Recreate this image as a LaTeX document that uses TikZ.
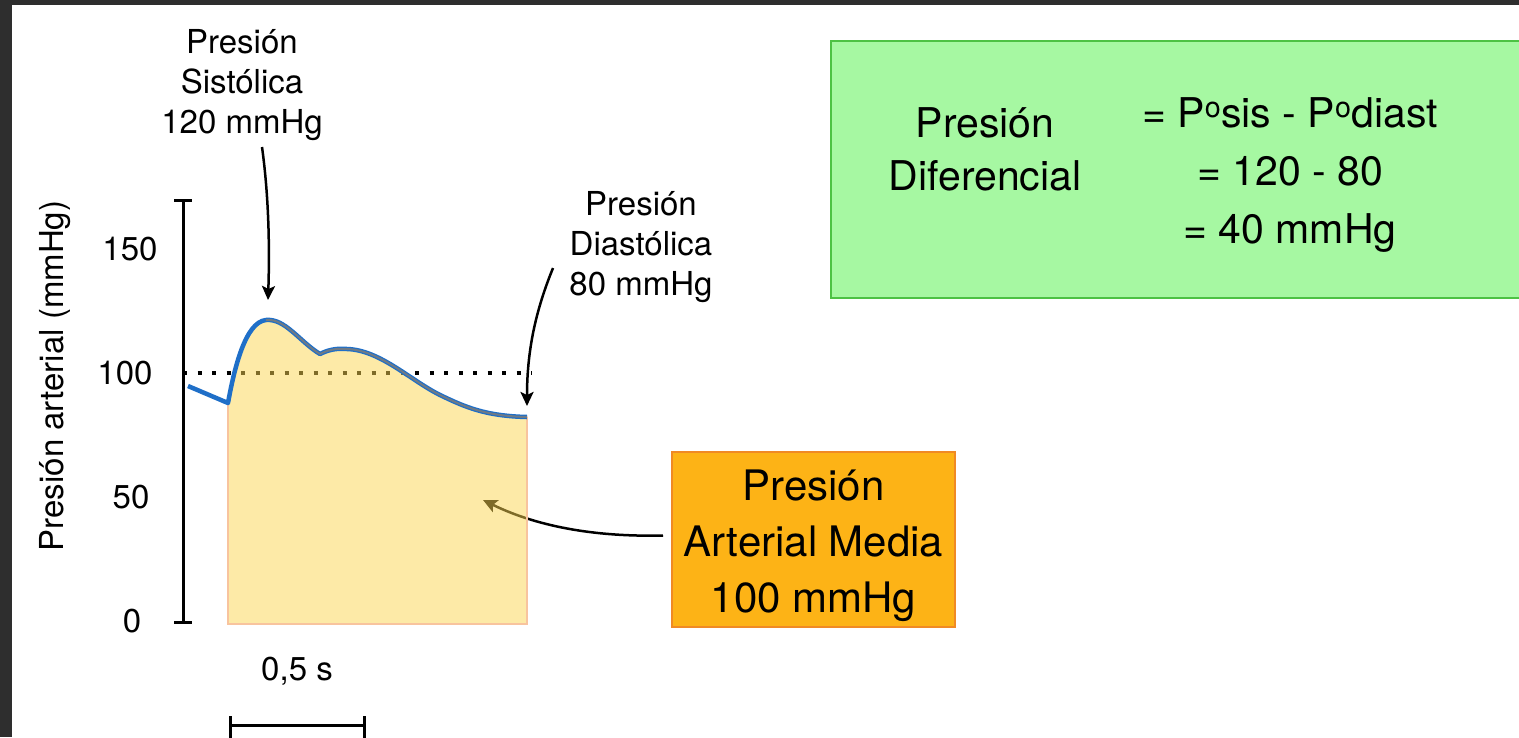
\documentclass[tikz,border=0pt]{standalone}
\usepackage{fontspec}
\setmainfont{TeX Gyre Heros}
\usetikzlibrary{arrows.meta}

\definecolor{framegray}{HTML}{2E2E2E}
\definecolor{curveblue}{HTML}{1F6FC8}
\definecolor{curvecore}{HTML}{6E7A86}
\definecolor{areafill}{HTML}{FDD750}
\definecolor{areaedge}{HTML}{F8C49E}
\definecolor{greenfill}{HTML}{A6F8A2}
\definecolor{greenedge}{HTML}{4DC244}
\definecolor{orangefill}{HTML}{FDB316}
\definecolor{orangeedge}{HTML}{F08A24}

% upper outline of one pressure pulse (pixel-like units, y pointing down)
\def\pulsetop{(228,403) .. controls (234,370) and (245,322) .. (266,320)
  .. controls (285,318) and (300,342) .. (320,354)
  .. controls (328,350) and (336,348) .. (347,349)
  .. controls (380,350) and (410,380) .. (440,395)
  .. controls (465,407) and (485,416) .. (527,417)}
\def\pulsefall{(266,320)
  .. controls (285,318) and (300,342) .. (320,354)
  .. controls (328,350) and (336,348) .. (347,349)
  .. controls (380,350) and (410,380) .. (440,395)
  .. controls (465,407) and (485,416) .. (527,417)}

\begin{document}
\begin{tikzpicture}[x=1pt,y=-1pt,
  note/.style={font=\fontsize{33}{40}\selectfont, align=center, inner sep=0pt, anchor=base},
  ticklbl/.style={font=\fontsize{33}{40}\selectfont, inner sep=0pt, anchor=base},
  boxtext/.style={font=\fontsize{41}{53}\selectfont, align=center, inner sep=0pt, anchor=base},
  arr/.style={-{Stealth[length=14pt,width=13pt,inset=3pt]}, line width=2.5pt, black},
  axisline/.style={line width=3pt, black}]

% page frame
\useasboundingbox (0,0) rectangle (1519,737);
\fill[framegray] (0,0) rectangle (1519,737);
\fill[white] (12,5) rectangle (1519,737);

% mean pressure level
\draw[line width=4pt, dash pattern=on 4pt off 10.5pt] (183,373) -- (532,373);

% mean pressure box and its pointer
\node[draw=orangeedge, fill=orangefill, line width=2pt, minimum width=283pt,
      minimum height=175pt, inner sep=0pt] (pam) at (813.5,539.5) {};
\node[font=\fontsize{42}{56}\selectfont, align=center, inner sep=0pt, anchor=base]
  (pamtext) at (813.5,612) {Presión\\Arterial Media\\100 mmHg};
\coordinate (pamTip) at (483,500);
\draw[arr] ([xshift=-8pt,yshift=4pt]pam.west) .. controls (600,537) and (540,528) .. (pamTip);

% area under the pulse
\fill[areafill, fill opacity=0.5] (228,624) -- \pulsetop -- (527,624) -- cycle;
\draw[areaedge, line width=2.5pt] (228,403) -- (228,624) -- (527,624) -- (527,417);

% pressure curve
\draw[curveblue, line width=4.5pt, line join=round] (188,386) -- \pulsetop;
\draw[curvecore, line width=2pt, line join=round] \pulsefall;

% vertical axis
\draw[axisline] (183,200) -- (183,622);
\draw[axisline] (174,200) -- (192,200);
\draw[axisline] (174,622) -- (192,622);
\node[ticklbl] (t150) at (130,260) {150};
\node[ticklbl] (t100) at (125,384) {100};
\node[ticklbl] (t50) at (131,508) {50};
\node[ticklbl] (t0) at (132,632) {0};
\node[font=\fontsize{33}{40}\selectfont, rotate=90, inner sep=0pt] (ylab) at (55,376) {Presión arterial (mmHg)};

% time scale
\node[ticklbl] (tscale) at (297,680) {0,5 s};
\draw[axisline] (230,725) -- (364,725);
\draw[axisline] (230,716) -- (230,740);
\draw[axisline] (364,716) -- (364,740);

% systolic and diastolic labels
\node[note] (sys) at (242,133) {Presión\\Sistólica\\120 mmHg};
\coordinate (sysTail) at (262,147);
\coordinate (sysTip) at (268,300);
\draw[arr] (sysTail) .. controls (268,190) and (270,240) .. (sysTip);

\node[note] (dia) at (641,295) {Presión\\Diastólica\\80 mmHg};
\coordinate (diaTail) at (553,268);
\coordinate (diaTip) at (527,406);
\draw[arr] (diaTail) .. controls (538,305) and (527,345) .. (diaTip);

% pulse pressure box
\node[draw=greenedge, fill=greenfill, line width=2pt, minimum width=700pt,
      minimum height=257pt, inner sep=0pt] (pdiff) at (1181,169.5) {};
\node[boxtext] (pdname) at (985,190) {Presión\\Diferencial};
\node[boxtext, font=\fontsize{41}{58}\selectfont] (pdcalc) at (1290,243)
  {= P\textsuperscript{o}sis - P\textsuperscript{o}diast\\= 120 - 80\\= 40 mmHg};
\end{tikzpicture}
\end{document}
